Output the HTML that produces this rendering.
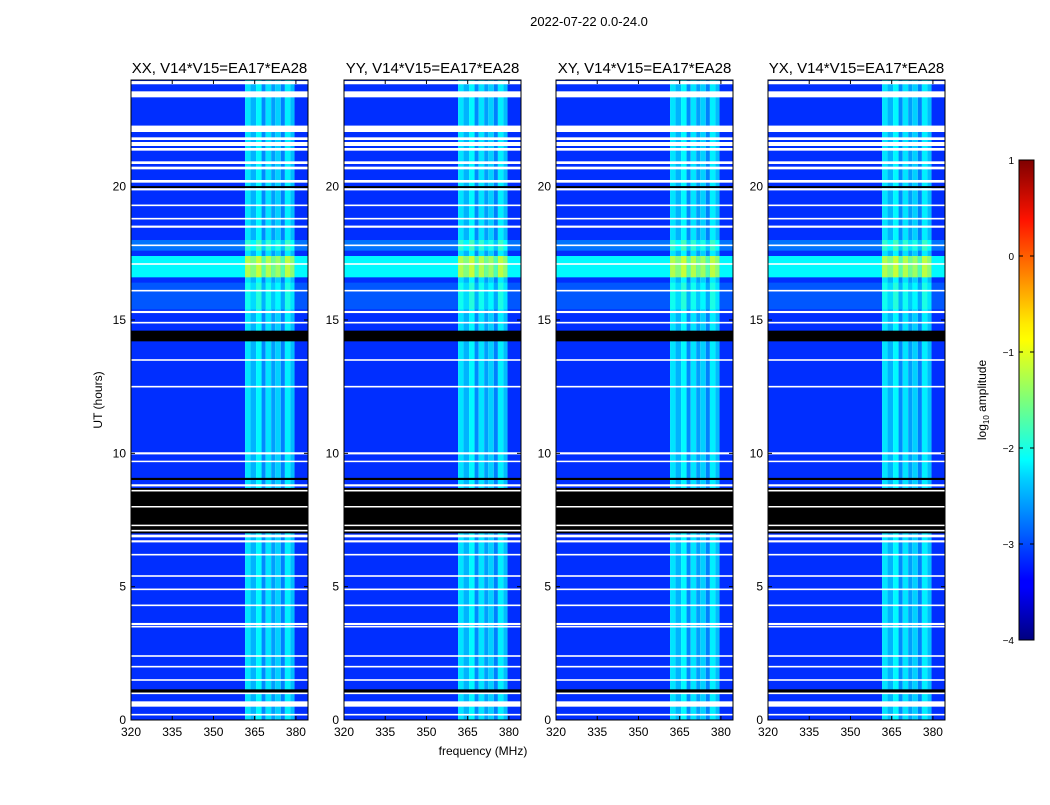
<!DOCTYPE html>
<html><head><meta charset="utf-8"><style>
body{margin:0;background:#fff;font-family:"Liberation Sans",sans-serif}
svg text{font-family:"Liberation Sans","DejaVu Sans",sans-serif}
</style></head><body>
<svg id="fig" width="1050" height="800" xmlns="http://www.w3.org/2000/svg">
<rect width="1050" height="800" fill="#fff"/>
<text x="589" y="26" font-size="13" text-anchor="middle">2022-07-22 0.0-24.0</text>
<text x="483" y="755" font-size="12" text-anchor="middle">frequency (MHz)</text>
<text transform="translate(102,400) rotate(-90)" font-size="12" text-anchor="middle">UT (hours)</text>
<defs><linearGradient id="jet" x1="0" y1="1" x2="0" y2="0">
<stop offset="0" stop-color="#00007f"/><stop offset="0.11" stop-color="#0000ff"/><stop offset="0.125" stop-color="#0000ff"/>
<stop offset="0.34" stop-color="#00d4ff"/><stop offset="0.375" stop-color="#00ffff"/><stop offset="0.5" stop-color="#7dff7a"/>
<stop offset="0.625" stop-color="#ffff00"/><stop offset="0.66" stop-color="#ffea00"/><stop offset="0.875" stop-color="#ff1300"/><stop offset="1" stop-color="#7f0000"/>
</linearGradient></defs>
<rect x="1019" y="160" width="15" height="480" fill="url(#jet)" stroke="#000" stroke-width="1"/>
<text transform="translate(986,400) rotate(-90)" font-size="12" text-anchor="middle">log<tspan font-size="8" dy="3">10</tspan><tspan dy="-3"> amplitude</tspan></text>
<g id="panels"></g>
<g id="cbticks"></g>
</svg>
<script>
const panelTitles=["XX, V14*V15=EA17*EA28","YY, V14*V15=EA17*EA28","XY, V14*V15=EA17*EA28","YX, V14*V15=EA17*EA28"];
const freqEdges=[320,361.5,363.5,365.5,367.5,369,371,372.5,374.5,376,378,379.5,384.4];
const freqLevel=[-3.15,-2.25,-2.5,-2.15,-2.7,-2.25,-2.6,-2.35,-2.75,-2.2,-2.45,-3.15];
const brightStart=[16.6,17.6,15.4];
const brightEnd=[17.4,18.0,16.4];
const brightBoost=[1.0,0.35,0.2];
const whiteLines=[23.9,23.5,23.4,22.2,22.1,21.8,21.6,21.4,20.9,20.7,20.2,19.9,19.3,18.8,18.5,17.8,17.1,16.1,15.3,14.9,13.5,12.5,10.0,9.7,8.8,8.6,8.0,7.3,7.1,6.9,6.7,6.2,5.4,4.9,4.3,3.6,3.5,2.4,2.0,1.5,1.0,0.6,0.2];
const whiteWidths=[0.12,0.15,0.1,0.18,0.1,0.1,0.15,0.1,0.1,0.1,0.1,0.08,0.06,0.06,0.08,0.06,0.06,0.06,0.08,0.06,0.06,0.06,0.08,0.05,0.08,0.06,0.05,0.05,0.06,0.1,0.08,0.06,0.06,0.06,0.06,0.08,0.06,0.06,0.06,0.06,0.06,0.2,0.06];
const blackStart=[14.2,7.0,1.0,9.0,19.95];
const blackEnd=[14.6,8.7,1.15,9.08,20.02];
const xTicks=[320,335,350,365,380];
const yTicks=[0,5,10,15,20];
const cbTicks=[1,0,-1,-2,-3,-4];
const cbLabels=["1","0","\u22121","\u22122","\u22123","\u22124"];

const panelLeft=[131,344,556,768], PW=177, PT=80, PH=640;
const xmin=320,xmax=384.4,ymin=0,ymax=24,vmin=-4,vmax=1;
const NS="http://www.w3.org/2000/svg";
function jet(v){let t=(v-vmin)/(vmax-vmin);t=Math.max(0,Math.min(1,t));
 const c=x=>Math.round(255*Math.max(0,Math.min(1,1.5-Math.abs(4*t-x))));
 return `rgb(${c(3)},${c(2)},${c(1)})`;}
function mk(tag,attrs,parent){const e=document.createElementNS(NS,tag);for(const k in attrs)e.setAttribute(k,attrs[k]);parent.appendChild(e);return e;}
const root=document.getElementById('panels');
panelTitles.forEach((title,p)=>{
 const L=panelLeft[p];
 const sx=f=>L+(f-xmin)/(xmax-xmin)*PW;
 const sy=h=>PT+PH-(h-ymin)/(ymax-ymin)*PH;
 const g=mk('g',{},root);
 
 
 for(let i=0;i<freqLevel.length;i++){
  const r=mk('rect',{x:sx(freqEdges[i]),y:PT,width:sx(freqEdges[i+1])-sx(freqEdges[i]),height:PH,fill:jet(freqLevel[i])},g);
  
  
 }
 for(let b=0;b<brightStart.length;b++){
  for(let i=0;i<freqLevel.length;i++){
   const r=mk('rect',{x:sx(freqEdges[i]),y:sy(brightEnd[b]),width:sx(freqEdges[i+1])-sx(freqEdges[i]),height:sy(brightStart[b])-sy(brightEnd[b]),fill:jet(freqLevel[i]+brightBoost[b])},g);
   
   
  }
 }
 for(let b=0;b<blackStart.length;b++){
  const r=mk('rect',{x:L,y:sy(blackEnd[b]),width:PW,height:Math.max(1,sy(blackStart[b])-sy(blackEnd[b])),fill:'#000'},g);
  
  
 }
 whiteLines.forEach((h,i)=>{
  const r=mk('rect',{x:L,y:sy(h+whiteWidths[i]/2),width:PW,height:Math.max(1.5,whiteWidths[i]/24*PH),fill:'#fff'},g);
  
  
 });
 const fr=mk('rect',{x:L,y:PT,width:PW,height:PH,fill:'none',stroke:'#000','stroke-width':1},g);
 
 
 const t=mk('text',{x:L+PW/2,y:PT-7,'font-size':15,'text-anchor':'middle'},g);t.textContent=title;
 
 
 xTicks.forEach(v=>{
  const x=sx(v);
  mk('line',{x1:x,x2:x,y1:PT+PH,y2:PT+PH-4,stroke:'#000'},g);
  mk('line',{x1:x,x2:x,y1:PT,y2:PT+4,stroke:'#000'},g);
  const tx=mk('text',{x:x,y:PT+PH+16,'font-size':12,'text-anchor':'middle'},g);tx.textContent=v;
  
  
 });
 yTicks.forEach(v=>{
  const y=sy(v);
  mk('line',{x1:L,x2:L+4,y1:y,y2:y,stroke:'#000'},g);
  mk('line',{x1:L+PW,x2:L+PW-4,y1:y,y2:y,stroke:'#000'},g);
  const ty=mk('text',{x:L-5,y:y+4,'font-size':12,'text-anchor':'end'},g);ty.textContent=v;
  
  
 });
});
const cb=document.getElementById('cbticks');
cbTicks.forEach((v,i)=>{
 const y=160+(vmax-v)/(vmax-vmin)*480;
 mk('line',{x1:1019,x2:1023,y1:y,y2:y,stroke:'#000'},cb);
 mk('line',{x1:1034,x2:1030,y1:y,y2:y,stroke:'#000'},cb);
 const t=mk('text',{x:1014,y:y+4,'font-size':10,'text-anchor':'end'},cb);t.textContent=cbLabels[i];
 
 
});
</script>
</body></html>
